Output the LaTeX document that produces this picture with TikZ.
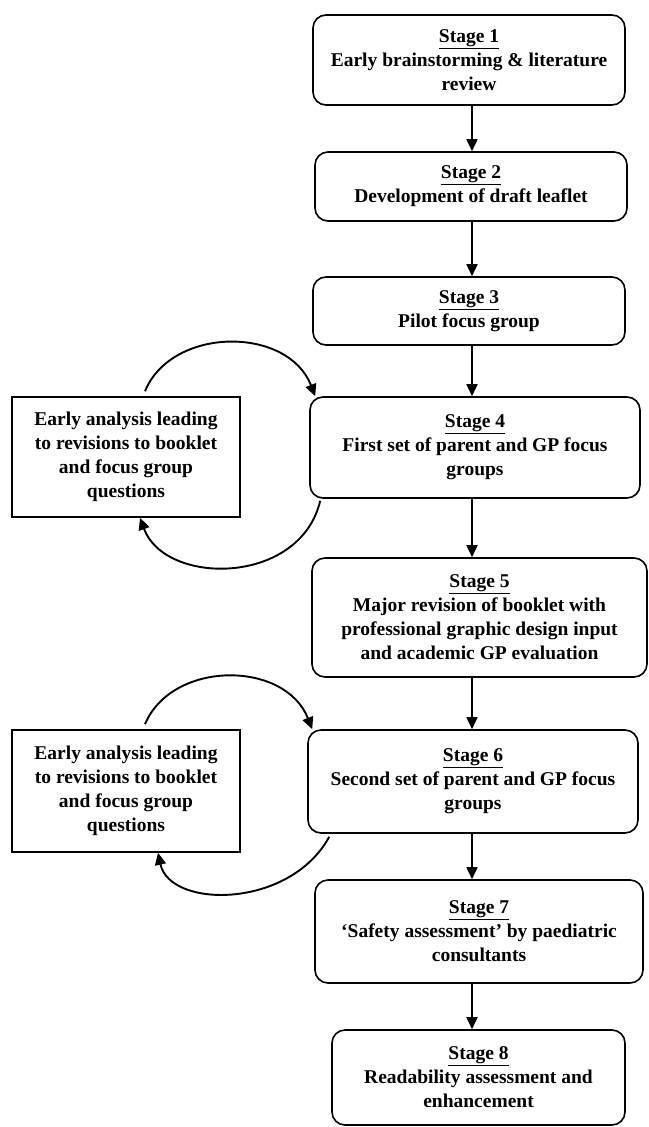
\documentclass[tikz,border=0pt]{standalone}
\usepackage{fontspec}
\setmainfont{Liberation Serif}
\usetikzlibrary{arrows.meta}
\begin{document}
\begin{tikzpicture}[x=1pt,y=-1pt,
  every node/.style={font=\fontsize{19.5}{24}\selectfont\bfseries, align=center, inner sep=0pt},
  stagebox/.style={draw, line width=1.6pt, rounded corners=13pt},
  notebox/.style={draw, line width=1.6pt},
  arr/.style={line width=1.7pt, -{Triangle[length=12pt,width=11pt]}},
  loop/.style={line width=1.9pt, -{Triangle[length=12pt,width=11pt]}}]
\useasboundingbox (0,0) rectangle (648,1127);

% main stages
\node[stagebox, minimum width=312pt, minimum height=90pt] (S1) at (469,60)
  {\underline{Stage 1}\\Early brainstorming \& literature\\review};
\node[stagebox, minimum width=312pt, minimum height=69pt] (S2) at (471,186.5)
  {\underline{Stage 2}\\Development of draft leaflet};
\node[stagebox, minimum width=312pt, minimum height=68pt] (S3) at (469,311)
  {\underline{Stage 3}\\Pilot focus group};
\node[stagebox, minimum width=330pt, minimum height=101pt] (S4) at (475,447.5)
  {\underline{Stage 4}\\First set of parent and GP focus\\groups};
\node[stagebox, minimum width=335pt, minimum height=119pt] (S5) at (479.5,617.5)
  {\underline{Stage 5}\\Major revision of booklet with\\professional graphic design input\\and academic GP evaluation};
\node[stagebox, minimum width=330pt, minimum height=103pt] (S6) at (473,781.5)
  {\underline{Stage 6}\\Second set of parent and GP focus\\groups};
\node[stagebox, minimum width=328pt, minimum height=103pt] (S7) at (479,931.5)
  {\underline{Stage 7}\\`Safety assessment' by paediatric\\consultants};
\node[stagebox, minimum width=293pt, minimum height=95pt] (S8) at (478.5,1077.5)
  {\underline{Stage 8}\\Readability assessment and\\enhancement};

% feedback boxes
\node[notebox, minimum width=228pt, minimum height=120pt] (L1) at (126,457)
  {Early analysis leading\\to revisions to booklet\\and focus group\\questions};
\node[notebox, minimum width=228pt, minimum height=122pt] (L2) at (126,791)
  {Early analysis leading\\to revisions to booklet\\and focus group\\questions};

% vertical flow
\coordinate (X) at (472,0);
\draw[arr] (S1.south -| X) -- (S2.north -| X);
\draw[arr] (S2.south -| X) -- (S3.north -| X);
\draw[arr] (S3.south -| X) -- (S4.north -| X);
\draw[arr] (S4.south -| X) -- (S5.north -| X);
\draw[arr] (S5.south -| X) -- (S6.north -| X);
\draw[arr] (S6.south -| X) -- (S7.north -| X);
\draw[arr] (S7.south -| X) -- (S8.north -| X);

% revision loops around stage 4
\draw[loop] ([xshift=19pt,yshift=5pt]L1.north) .. controls (172,326) and (288,326) .. ([xshift=6pt]S4.north west);
\draw[loop] ([xshift=11pt,yshift=-2pt]S4.south west) .. controls (300,586) and (165,586) .. ([xshift=14pt]L1.south);

% revision loops around stage 6
\draw[loop] ([xshift=19pt,yshift=5pt]L2.north) .. controls (172,660) and (285,660) .. ([xshift=5pt]S6.north west);
\draw[loop] ([xshift=22pt,yshift=-3pt]S6.south west) .. controls (290,909) and (170,909) .. ([xshift=32pt]L2.south);
\end{tikzpicture}
\end{document}
